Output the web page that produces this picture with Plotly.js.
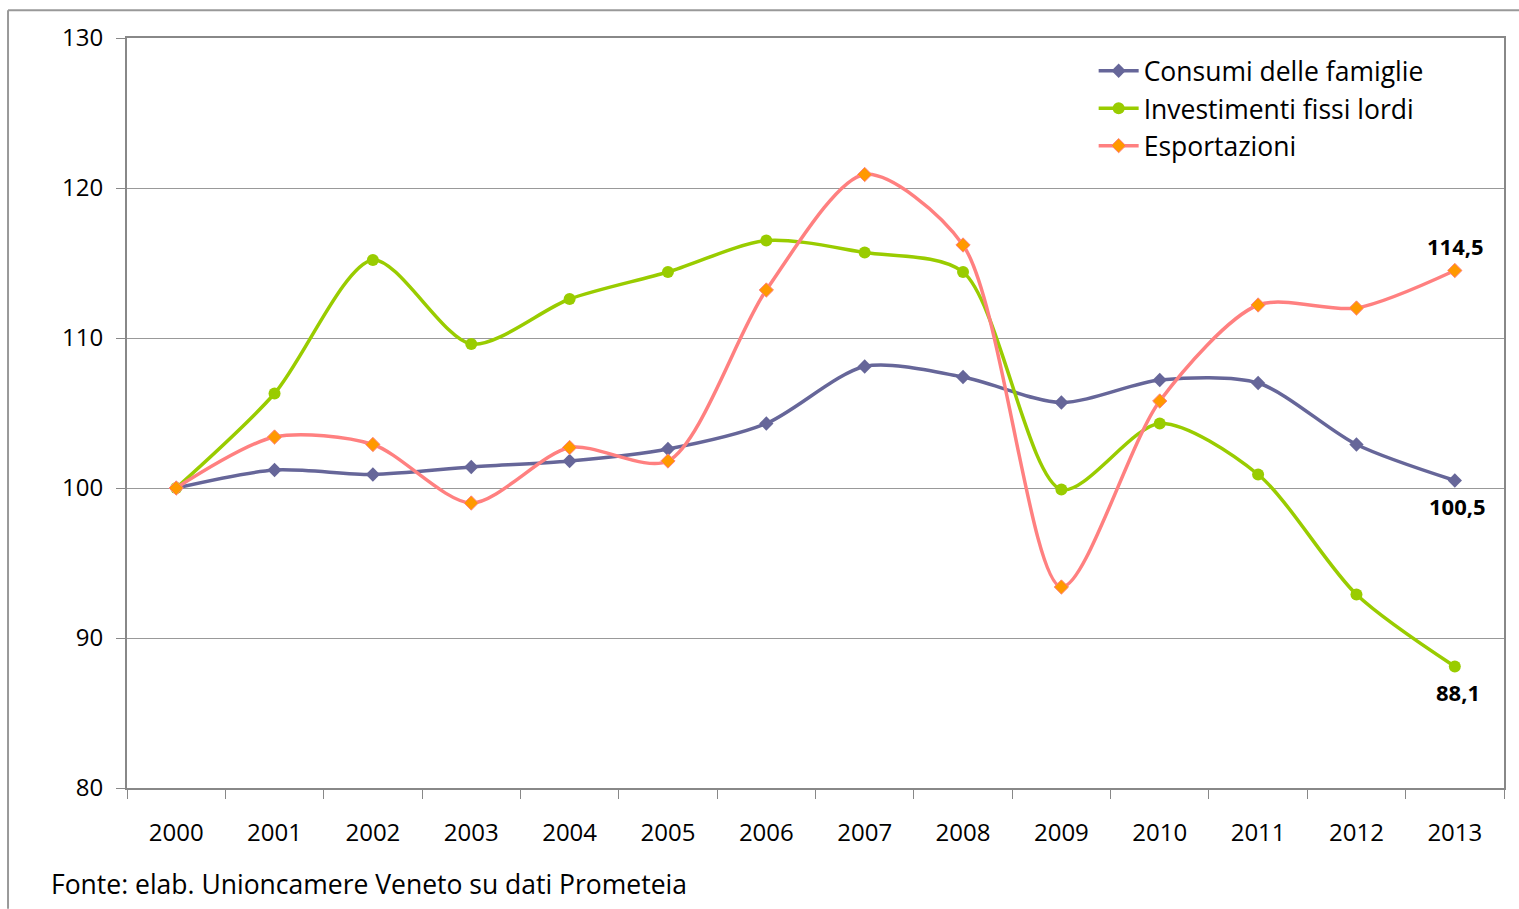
<!DOCTYPE html>
<html><head><meta charset="utf-8">
<script src="https://cdn.plot.ly/plotly-3.0.1.min.js"></script>
<style>html,body{margin:0;padding:0;background:#fff}#chart{width:1519px;height:909px}</style>
</head><body><div id="chart"></div>
<script>
const years = ['2000','2001','2002','2003','2004','2005','2006','2007','2008','2009','2010','2011','2012','2013'];
const consumi = [100, 101.2, 100.9, 101.4, 101.8, 102.6, 104.3, 108.1, 107.4, 105.7, 107.2, 107.0, 102.9, 100.5];
const investimenti = [100, 106.3, 115.2, 109.6, 112.6, 114.4, 116.5, 115.7, 114.4, 99.9, 104.3, 100.9, 92.9, 88.1];
const esportazioni = [100, 103.4, 102.9, 99.0, 102.7, 101.8, 113.2, 120.9, 116.2, 93.4, 105.8, 112.2, 112.0, 114.5];
const yTicks = [80, 90, 100, 110, 120, 130];

const FONT = '"Open Sans", Lato, sans-serif';
const traces = [
  {x: years, y: consumi, name: 'Consumi delle famiglie', mode: 'lines+markers',
   line: {color: '#666699', width: 3.5, shape: 'spline', smoothing: 0.8},
   marker: {symbol: 'diamond', size: 11, color: '#666699'}},
  {x: years, y: investimenti, name: 'Investimenti fissi lordi', mode: 'lines+markers',
   line: {color: '#99CC00', width: 3.5, shape: 'spline', smoothing: 0.8},
   marker: {symbol: 'circle', size: 12, color: '#99CC00'}},
  {x: years, y: esportazioni, name: 'Esportazioni', mode: 'lines+markers',
   line: {color: '#FF8080', width: 3.5, shape: 'spline', smoothing: 0.8},
   marker: {symbol: 'diamond', size: 11, color: '#FF9900', line: {color: '#FF8080', width: 1}}}
];
const last = years.length - 1;
const fmt = v => v.toFixed(1).replace('.', ',');
const annotations = [
  {x: last, y: esportazioni[last], text: '<b>' + fmt(esportazioni[last]) + '</b>', showarrow: false, yshift: 25, xshift: 1},
  {x: last, y: consumi[last], text: '<b>' + fmt(consumi[last]) + '</b>', showarrow: false, yshift: -25, xshift: 3},
  {x: last, y: investimenti[last], text: '<b>' + fmt(investimenti[last]) + '</b>', showarrow: false, yshift: -25, xshift: 3},
  {xref: 'paper', yref: 'paper', x: -0.0566, y: -0.128, xanchor: 'left', yanchor: 'middle', showarrow: false,
   text: 'Fonte: elab. Unioncamere Veneto su dati Prometeia', font: {size: 26.5, color: '#000', family: FONT}}
].map(a => Object.assign({xref: 'x', yref: 'y', font: {size: 22, color: '#000', family: FONT}}, a));

const layout = {
  width: 1519, height: 909,
  margin: {l: 127, r: 15, t: 38, b: 121},
  paper_bgcolor: '#fff', plot_bgcolor: '#fff',
  font: {family: FONT, color: '#000', size: 22},
  showlegend: true,
  legend: {x: 0.702, y: 0.988, xanchor: 'left', yanchor: 'top', bgcolor: 'rgba(0,0,0,0)',
           font: {size: 26.5, family: FONT}, tracegroupgap: 0, itemwidth: 40},
  xaxis: {type: 'category', range: [-0.5, 13.5], tickson: 'boundaries', ticks: 'outside', ticklen: 9,
          tickcolor: '#888', showline: true, linecolor: '#888', linewidth: 2, mirror: true,
          showgrid: false, tickfont: {size: 24}, ticklabelstandoff: 22, fixedrange: true},
  yaxis: {range: [80, 130], tickvals: yTicks, ticks: 'outside', ticklen: 9, tickcolor: '#888',
          showline: true, linecolor: '#888', linewidth: 2, mirror: true,
          showgrid: true, gridcolor: '#999', gridwidth: 1, zeroline: false,
          tickfont: {size: 24}, ticklabelstandoff: 8},
  annotations: annotations,
  shapes: [
    {type: 'line', xref: 'paper', yref: 'paper', x0: -0.0864, x1: -0.0864, y0: -0.161, y1: 1.037, line: {color: '#999', width: 2}},
    {type: 'line', xref: 'paper', yref: 'paper', x0: -0.0864, x1: 1.011, y0: 1.037, y1: 1.037, line: {color: '#999', width: 2}}
  ]
};
Plotly.newPlot('chart', traces, layout, {displayModeBar: false, staticPlot: true});
</script></body></html>
